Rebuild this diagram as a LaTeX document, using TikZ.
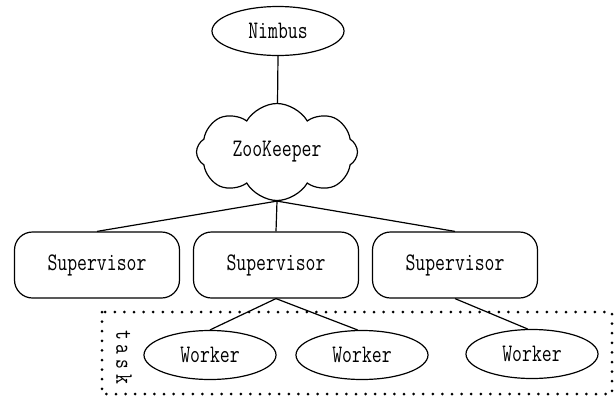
\documentclass[tikz,border=0pt]{standalone}
\usetikzlibrary{shapes.geometric, shapes.symbols, backgrounds}
\newcommand{\lbl}[1]{\scalebox{0.8}[1.05]{\ttfamily #1}} % narrow mono labels
\tikzset{
x=1pt, y=-1pt, % pixel like units, y downwards
every node/.style={font=\fontsize{24}{27}\selectfont, line width=1.2pt},
proc/.style={ellipse, draw, minimum width=132pt, minimum height=49pt, inner sep=0pt}, % Nimbus and Worker
supbox/.style={draw, rounded corners=18pt, minimum width=165pt, minimum height=66pt}, % Supervisor boxes
link/.style={line width=1.2pt}, % plain connectors
taskbox/.style={line width=3pt, line cap=round, dash pattern=on 0pt off 9.6pt}, % dotted frame
}
\begin{document}
\begin{tikzpicture}
    \useasboundingbox (0,0) rectangle (614,397);
    \node[proc] (nimbus) at (278,31) {\lbl{Nimbus}};
    \node[cloud, draw, fill=white, cloud puffs=8, cloud puff arc=120, aspect=1.7,
          minimum width=161pt, minimum height=97pt, inner sep=0pt] (zk) at (277,152) {\lbl{ZooKeeper}};
    \node[supbox] (s1) at (97,265) {\lbl{Supervisor}};
    \node[supbox] (s2) at (276,265) {\lbl{Supervisor}};
    \node[supbox] (s3) at (455,265) {\lbl{Supervisor}};
    \node[proc] (w1) at (210,355) {\lbl{Worker}};
    \node[proc] (w2) at (362,355) {\lbl{Worker}};
    \node[proc] (w3) at (532,354) {\lbl{Worker}};
    \node[rotate=-90] (task) at (124,357) {\lbl{t\kern6pt a\kern6pt s\kern6pt k}};
    % lines behind the cloud
    \begin{scope}[on background layer]
        \draw[link] (nimbus.south) -- (zk.center);
        \draw[link] (zk.south) -- (s1.north);
        \draw[link] (zk.south) -- (s2.north);
        \draw[link] (zk.south) -- (s3.north);
    \end{scope}
    \draw[link] (s2.south) -- (w1.north);
    \draw[link] (s2.south) -- (w2.100);
    \draw[link] (s3.south) -- (w3.100);
    \coordinate (tl) at (102,312);
    \coordinate (br) at (612,394);
    \draw[taskbox] (tl) rectangle (br);
\end{tikzpicture}
\end{document}
